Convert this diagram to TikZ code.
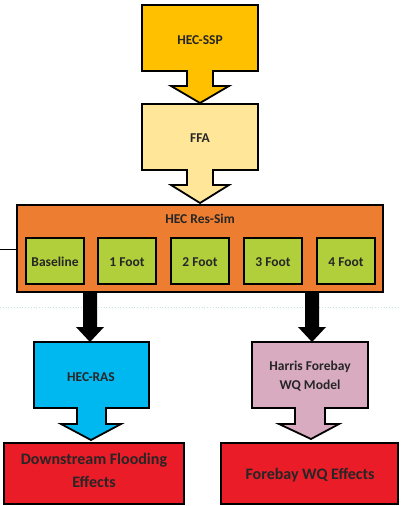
\documentclass[tikz,border=0pt]{standalone}
\usepackage{fontspec}
\setmainfont{Carlito}
\begin{document}
\begin{tikzpicture}[x=1pt,y=-1pt,
  outl/.style={draw=black,line width=1.8pt,line join=miter},
  lbl/.style={font=\bfseries\fontsize{13.5}{19}\selectfont,text=black!85,align=center},
  redlbl/.style={font=\bfseries\fontsize{16}{23}\selectfont,text=black!85,align=center},
  greenbox/.style={outl,fill=cgreen},
]
\definecolor{cssp}{HTML}{FFC000}
\definecolor{cffa}{HTML}{FFE699}
\definecolor{cres}{HTML}{ED7D31}
\definecolor{cgreen}{HTML}{B0CF3A}
\definecolor{cras}{HTML}{00B8F0}
\definecolor{charris}{HTML}{D8ABC1}
\definecolor{cred}{HTML}{EA1C28}
\useasboundingbox (0,0) rectangle (400,506);
% faint dotted page line
\draw[cyan!30!green!25,dotted,line width=0.8pt] (0,307) -- (400,307);
% left stub
\draw[line width=1pt] (0,249) -- (17,249);
% HEC-SSP callout
\draw[outl,fill=cssp] (142,5) -- (258,5) -- (258,71) -- (213,71) -- (213,86) -- (229,86) -- (200,103) -- (171,86) -- (187,86) -- (187,71) -- (142,71) -- cycle;
\node[lbl] (ssp) at (200,40) {HEC-SSP};
% FFA callout
\draw[outl,fill=cffa] (142,104) -- (258,104) -- (258,170) -- (213,170) -- (213,185) -- (229,185) -- (200,203) -- (171,185) -- (187,185) -- (187,170) -- (142,170) -- cycle;
\node[lbl] (ffa) at (200,138) {FFA};
% Res-Sim
\draw[outl,fill=cres] (17,205) rectangle (383,292);
\node[lbl] (res) at (200,219) {HEC Res-Sim};
\foreach \x/\t/\n in {26/Baseline/b0,98/1 Foot/b1,171/2 Foot/b2,244/3 Foot/b3,317/4 Foot/b4}{
  \draw[greenbox] (\x,238) rectangle (\x+58,284);
  \node[lbl] (\n) at (\x+29,262) {\t};
}
% black arrows
\fill[black] (83,292) -- (97,292) -- (97,327) -- (104,327) -- (90,342) -- (76,327) -- (83,327) -- cycle;
\fill[black] (305,292) -- (319,292) -- (319,327) -- (326,327) -- (312,342) -- (298,327) -- (305,327) -- cycle;
% HEC-RAS callout
\draw[outl,fill=cras] (34,342) -- (149,342) -- (149,408) -- (106,408) -- (106,424) -- (121,424) -- (91,440) -- (61,424) -- (77,424) -- (77,408) -- (34,408) -- cycle;
\node[lbl] (ras) at (91,377) {HEC-RAS};
% Harris callout
\draw[outl,fill=charris] (252,342) -- (368,342) -- (368,408) -- (325,408) -- (325,424) -- (339,424) -- (311,439) -- (279,424) -- (295,424) -- (295,408) -- (252,408) -- cycle;
\node[lbl] (harris) at (310,376) {Harris Forebay\\WQ Model};
% Red boxes
\draw[outl,fill=cred] (4,443) rectangle (184,504);
\node[redlbl] (down) at (94,470) {Downstream Flooding\\Effects};
\draw[outl,fill=cred] (221,443) rectangle (398,504);
\node[redlbl] (fore) at (310,475) {Forebay WQ Effects};
\end{tikzpicture}
\end{document}
